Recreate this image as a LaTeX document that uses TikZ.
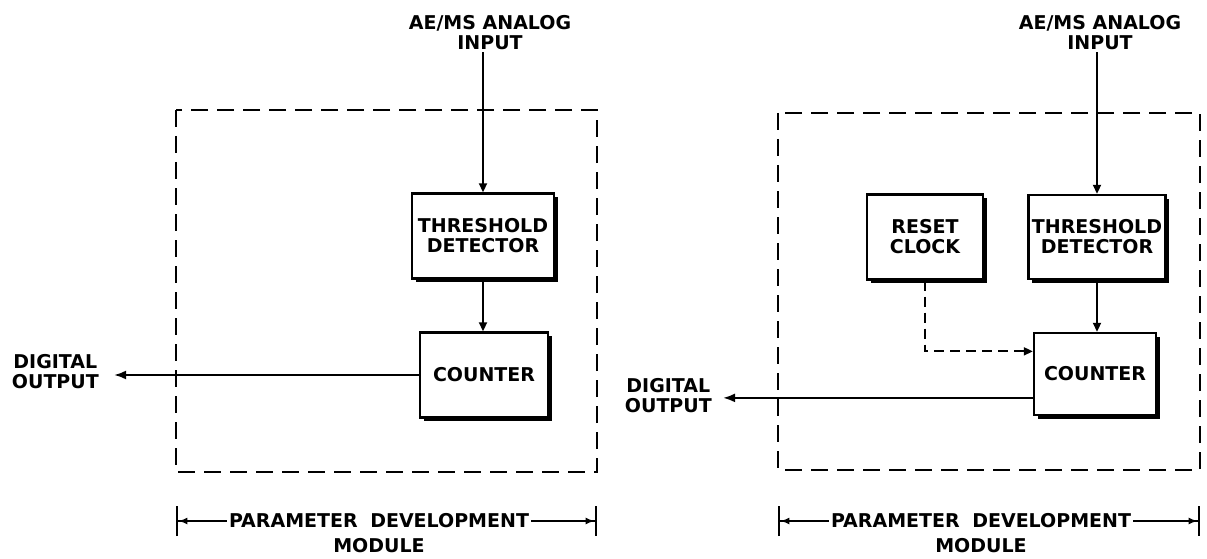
\documentclass[tikz,border=0pt]{standalone}
\usepackage{fontspec}
\setmainfont{DejaVu Sans}
\usetikzlibrary{arrows.meta,positioning,shadows}

\begin{document}
\begin{tikzpicture}[x=1pt, y=1pt,
    lbl/.style={font=\bfseries\fontsize{19}{20}\selectfont, align=center, inner sep=2pt},
    blk/.style={draw, line width=2.4pt, fill=white, align=center,
        font=\bfseries\fontsize{19}{20}\selectfont,
        drop shadow={shadow xshift=3.5pt, shadow yshift=-3.5pt, fill=black, opacity=1}},
    modbox/.style={line width=2.4pt, dash pattern=on 17pt off 9pt},
    sig/.style={line width=1.9pt, -{Triangle[length=9pt,width=8pt]}},
    outsig/.style={line width=2.2pt, -{Latex[length=12pt,width=9pt]}},
    dimline/.style={line width=2pt, -{Latex[length=9pt,width=7pt]Bar[width=30pt,line width=2.4pt]}}]

    \useasboundingbox (0,0) rectangle (1207,558);

    % 左侧模块
    \begin{scope}
        \draw[modbox] (176,448) rectangle (597,86);
        \node[lbl] (inL) at (490,525) {AE/MS ANALOG\\INPUT};
        \node[blk, minimum width=142pt, minimum height=85pt] (thrL) at (483,322) {THRESHOLD\\DETECTOR};
        \node[blk, minimum width=128pt, minimum height=85pt] (cntL) at (484,183) {COUNTER};
        \node[lbl, anchor=east] (digL) at (101,186) {DIGITAL\\OUTPUT};

        \draw[sig] (inL.south -| thrL.north) -- (thrL.north);
        \draw[sig] (thrL.south) -- (thrL.south |- cntL.north);
        \draw[outsig, shorten >=13pt] (cntL.west) -- (cntL.west -| digL.east);

        \node[lbl] (pdL) at (379,37) {PARAMETER\hspace{6pt} DEVELOPMENT};
        \node[lbl, below=6pt of pdL] (mdL) {MODULE};
        \coordinate (dimLa) at (176,37);
        \coordinate (dimLb) at (597,37);
        \draw[dimline] (pdL.west) -- (dimLa);
        \draw[dimline] (pdL.east) -- (dimLb);
    \end{scope}

    % 右侧模块
    \begin{scope}
        \draw[modbox] (778,445) rectangle (1200,88);
        \node[lbl] (inR) at (1100,525) {AE/MS ANALOG\\INPUT};
        \node[blk, minimum width=116pt, minimum height=85pt] (rstR) at (925,321) {RESET\\CLOCK};
        \node[blk, minimum width=131pt, minimum height=84pt] (thrR) at (1097,321) {THRESHOLD\\DETECTOR};
        \node[blk, minimum width=122pt, minimum height=82pt] (cntR) at (1095,184) {COUNTER};
        \node[lbl, anchor=east] (digR) at (714,162) {DIGITAL\\OUTPUT};

        \draw[sig] (inR.south -| thrR.north) -- (thrR.north);
        \draw[sig] (thrR.south) -- (thrR.south |- cntR.north);
        \draw[sig, dash pattern=on 10pt off 6pt] (rstR.south) |- (cntR.160);
        \draw[outsig, shorten >=9pt] (cntR.201) -- (cntR.201 -| digR.east);

        \node[lbl] (pdR) at (981,37) {PARAMETER\hspace{6pt} DEVELOPMENT};
        \node[lbl, below=6pt of pdR] (mdR) {MODULE};
        \coordinate (dimRa) at (778,37);
        \coordinate (dimRb) at (1200,37);
        \draw[dimline] (pdR.west) -- (dimRa);
        \draw[dimline] (pdR.east) -- (dimRb);
    \end{scope}
\end{tikzpicture}
\end{document}
